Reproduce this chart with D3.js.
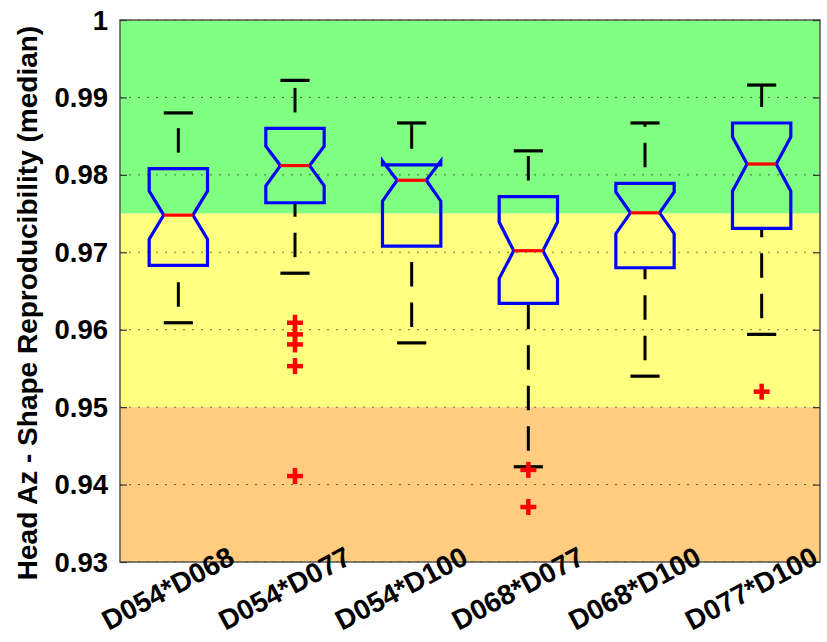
<!DOCTYPE html>
<html>
<head>
<meta charset="utf-8">
<script src="https://cdn.jsdelivr.net/npm/d3@7"></script>
<style>
  html, body { margin: 0; padding: 0; background: #fff; }
  svg { display: block; }
  text { font-family: "Liberation Sans", Arial, Helvetica, sans-serif; font-weight: bold; fill: #000; }
</style>
</head>
<body>
<svg id="chart" width="827" height="642"></svg>
<script>
// ---- data ----
const categories   = ["D054*D068", "D054*D077", "D054*D100", "D068*D077", "D068*D100", "D077*D100"];
const upperWhisker = [0.9880, 0.9922, 0.9867, 0.9831, 0.9867, 0.9916];
const q3           = [0.9808, 0.9860, 0.9813, 0.9772, 0.9789, 0.9867];
const notchHigh    = [0.9779, 0.9837, 0.9818, 0.9739, 0.9778, 0.9849];
const median       = [0.9748, 0.9812, 0.9793, 0.9702, 0.9751, 0.9814];
const notchLow     = [0.9717, 0.9786, 0.9766, 0.9666, 0.9724, 0.9779];
const q1           = [0.9683, 0.9764, 0.9708, 0.9634, 0.9680, 0.9731];
const lowerWhisker = [0.9609, 0.9673, 0.9583, 0.9423, 0.9540, 0.9594];
const outliers     = [[], [0.9609, 0.9594, 0.9581, 0.9553, 0.9411], [], [0.9419, 0.9371], [], [0.9520]];
const yTicks       = [0.93, 0.94, 0.95, 0.96, 0.97, 0.98, 0.99, 1];
const bandEdges    = [1, 0.975, 0.95, 0.93];
const bandColors   = ["#80ff80", "#ffff80", "#ffcc80"];
const yTitle       = "Head Az - Shape Reproducibility (median)";

// ---- layout ----
const svg = d3.select("#chart");
const L = 120, R = 820, T = 20, B = 562;

const x = d3.scaleBand().domain(categories).range([L, R]).paddingInner(0).paddingOuter(0);
const y = d3.scaleLinear().domain([0.93, 1]).range([B, T]);
const cx = c => x(c) + x.bandwidth() / 2;
const boxHalf = x.bandwidth() * 0.25;
const notchHalf = boxHalf / 2;

// background bands
svg.append("g").selectAll("rect")
  .data(bandColors)
  .join("rect")
  .attr("x", L)
  .attr("width", R - L)
  .attr("y", (d, i) => y(bandEdges[i]))
  .attr("height", (d, i) => y(bandEdges[i + 1]) - y(bandEdges[i]))
  .attr("fill", d => d);

// grid lines
svg.append("g").selectAll("line")
  .data(yTicks)
  .join("line")
  .attr("x1", L).attr("x2", R)
  .attr("y1", d => y(d)).attr("y2", d => y(d))
  .attr("stroke", "#000").attr("stroke-opacity", 0.55)
  .attr("stroke-width", 1)
  .attr("stroke-dasharray", "2 7");

const idx = d3.range(categories.length);
const g = svg.append("g");

// whiskers (drawn from lower value upward)
const whisk = [];
idx.forEach(i => {
  whisk.push({i, lo: lowerWhisker[i], hi: q1[i]});
  whisk.push({i, lo: q3[i], hi: upperWhisker[i]});
});
g.selectAll("line.whisker")
  .data(whisk)
  .join("line")
  .attr("class", "whisker")
  .attr("x1", d => cx(categories[d.i])).attr("x2", d => cx(categories[d.i]))
  .attr("y1", d => y(d.lo)).attr("y2", d => y(d.hi))
  .attr("stroke", "#000").attr("stroke-width", 3)
  .attr("stroke-dasharray", "24.5 16").attr("stroke-dashoffset", 24.5);

// caps
const caps = [];
idx.forEach(i => { caps.push({i, v: upperWhisker[i]}); caps.push({i, v: lowerWhisker[i]}); });
g.selectAll("line.cap")
  .data(caps)
  .join("line")
  .attr("class", "cap")
  .attr("x1", d => cx(categories[d.i]) - notchHalf)
  .attr("x2", d => cx(categories[d.i]) + notchHalf)
  .attr("y1", d => y(d.v)).attr("y2", d => y(d.v))
  .attr("stroke", "#000").attr("stroke-width", 3.2);

// notched boxes
g.selectAll("path.box")
  .data(idx)
  .join("path")
  .attr("class", "box")
  .attr("d", i => {
    const c = cx(categories[i]);
    const pts = [
      [c - boxHalf, y(q1[i])],
      [c - boxHalf, y(notchLow[i])],
      [c - notchHalf, y(median[i])],
      [c - boxHalf, y(notchHigh[i])],
      [c - boxHalf, y(q3[i])],
      [c + boxHalf, y(q3[i])],
      [c + boxHalf, y(notchHigh[i])],
      [c + notchHalf, y(median[i])],
      [c + boxHalf, y(notchLow[i])],
      [c + boxHalf, y(q1[i])]
    ];
    return d3.line()(pts) + "Z";
  })
  .attr("fill", "none")
  .attr("stroke", "#0000ff")
  .attr("stroke-width", 3.2)
  .attr("stroke-linejoin", "miter");

// medians
g.selectAll("line.median")
  .data(idx)
  .join("line")
  .attr("class", "median")
  .attr("x1", i => cx(categories[i]) - notchHalf)
  .attr("x2", i => cx(categories[i]) + notchHalf)
  .attr("y1", i => y(median[i])).attr("y2", i => y(median[i]))
  .attr("stroke", "#ff0000").attr("stroke-width", 3.2);

// outliers
const outs = [];
idx.forEach(i => outliers[i].forEach(v => outs.push({i, v})));
const plus = g.selectAll("g.out").data(outs).join("g").attr("class", "out")
  .attr("transform", d => `translate(${cx(categories[d.i])},${y(d.v)})`);
plus.append("line").attr("x1", -8).attr("x2", 8).attr("y1", 0).attr("y2", 0)
  .attr("stroke", "#ff0000").attr("stroke-width", 4.5);
plus.append("line").attr("x1", 0).attr("x2", 0).attr("y1", -8).attr("y2", 8)
  .attr("stroke", "#ff0000").attr("stroke-width", 4.5);

// frame
svg.append("rect")
  .attr("x", L).attr("y", T).attr("width", R - L).attr("height", B - T)
  .attr("fill", "none").attr("stroke", "#555").attr("stroke-width", 1.5);

// ticks left/right (inside)
const yAxisL = d3.axisRight(y).tickValues(yTicks).tickSize(7).tickFormat("");
const yAxisR = d3.axisLeft(y).tickValues(yTicks).tickSize(7).tickFormat("");
svg.append("g").attr("transform", `translate(${L},0)`).call(yAxisL)
  .call(s => s.select(".domain").remove())
  .selectAll("line").attr("stroke", "#333").attr("stroke-width", 1.2);
svg.append("g").attr("transform", `translate(${R},0)`).call(yAxisR)
  .call(s => s.select(".domain").remove())
  .selectAll("line").attr("stroke", "#333").attr("stroke-width", 1.2);

// y tick labels
svg.append("g").selectAll("text")
  .data(yTicks)
  .join("text")
  .attr("x", 108)
  .attr("y", d => y(d) + 9.5)
  .attr("text-anchor", "end")
  .attr("font-size", 27.5)
  .text(d => d === 1 ? "1" : d.toFixed(2));

// x labels rotated
svg.append("g").selectAll("text")
  .data(categories)
  .join("text")
  .attr("text-anchor", "end")
  .attr("font-size", 28)
  .attr("transform", d => `translate(${cx(d) + 58},${563}) rotate(-28)`)
  .text(d => d);

// y title
svg.append("text")
  .attr("transform", `translate(37,${(23 + 583) / 2}) rotate(-90)`)
  .attr("text-anchor", "middle")
  .attr("font-size", 28)
  .text(yTitle);
</script>
</body>
</html>
